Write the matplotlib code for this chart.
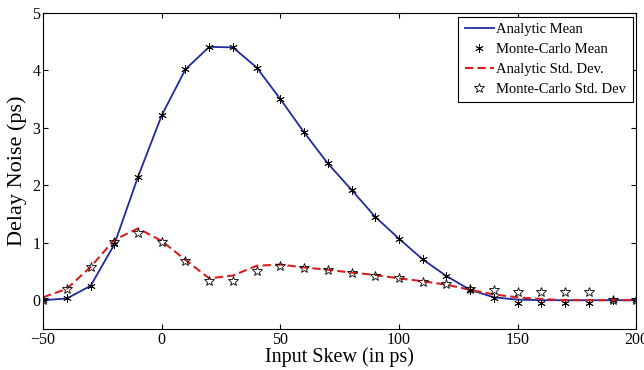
import numpy as np
import matplotlib
matplotlib.use("Agg")
import matplotlib.pyplot as plt

plt.rcParams['font.family'] = ['Liberation Serif', 'DejaVu Serif']

## input skew values (ps)
skew = [-50, -40, -30, -20, -10, 0, 10, 20, 30, 40, 50, 60, 70, 80, 90,
        100, 110, 120, 130, 140, 150, 160, 170, 180, 190, 200]

## analytic mean / std
ana_mean = [0.0, 0.03, 0.25, 0.97, 2.15, 3.22, 4.02, 4.41, 4.40, 4.05, 3.50,
            2.92, 2.38, 1.92, 1.45, 1.07, 0.71, 0.42, 0.18, 0.05, 0.01, 0.0,
            0.0, 0.0, 0.0, 0.0]
ana_std = [0.05, 0.20, 0.58, 1.05, 1.25, 1.03, 0.70, 0.38, 0.43, 0.60, 0.62,
           0.57, 0.53, 0.48, 0.44, 0.38, 0.33, 0.27, 0.18, 0.10, 0.05, 0.02,
           0.0, 0.0, 0.0, 0.0]

## monte-carlo samples
mc_mean = [0.0, 0.03, 0.25, 0.97, 2.15, 3.22, 4.02, 4.41, 4.40, 4.05, 3.50,
           2.92, 2.38, 1.92, 1.45, 1.07, 0.71, 0.42, 0.18, 0.03, -0.05, -0.05,
           -0.05, -0.05, 0.0, 0.0]
mc_std = [0.0, 0.20, 0.57, 1.02, 1.17, 1.02, 0.68, 0.33, 0.33, 0.50, 0.60,
          0.56, 0.52, 0.48, 0.43, 0.38, 0.32, 0.28, 0.20, 0.17, 0.14, 0.14,
          0.14, 0.14, 0.0, 0.0]

fig = plt.figure(figsize=(6.44, 3.70), dpi=100)
ax = fig.add_axes([0.067, 0.111, 0.921, 0.854])

ax.plot(skew, ana_mean, color='#1f2a9c', lw=1.3, label='Analytic Mean')
ax.plot(skew, mc_mean, ls='none', marker=(6, 2, 0), ms=6, mew=0.6,
        color='black', label='Monte-Carlo Mean')
ax.plot(skew, ana_std, color='#d42020', lw=1.5, ls=(0, (4, 2)),
        label='Analytic Std. Dev.')
ax.plot(skew, mc_std, ls='none', marker='*', ms=7, mew=0.6,
        mfc='none', mec='black', label='Monte-Carlo Std. Dev')

ax.set_xlim(-50, 200)
ax.set_ylim(-0.5, 5)
ax.set_xticks([-50, 0, 50, 100, 150, 200])
ax.set_yticks([0, 1, 2, 3, 4, 5])
ax.tick_params(direction='in', top=True, right=True, labelsize=11.5, pad=2)
ax.set_xlabel('Input Skew (in ps)', fontsize=14.5, labelpad=0)
ax.set_ylabel('Delay Noise (ps)', fontsize=16, labelpad=4)

leg = ax.legend(loc='upper right', fontsize=10.5, handlelength=2.0,
                handletextpad=0.15, borderpad=0.45, labelspacing=0.45,
                borderaxespad=0.25, fancybox=False, framealpha=1)
leg.get_frame().set_edgecolor('black')
leg.get_frame().set_linewidth(0.8)

plt.savefig('out.png')
